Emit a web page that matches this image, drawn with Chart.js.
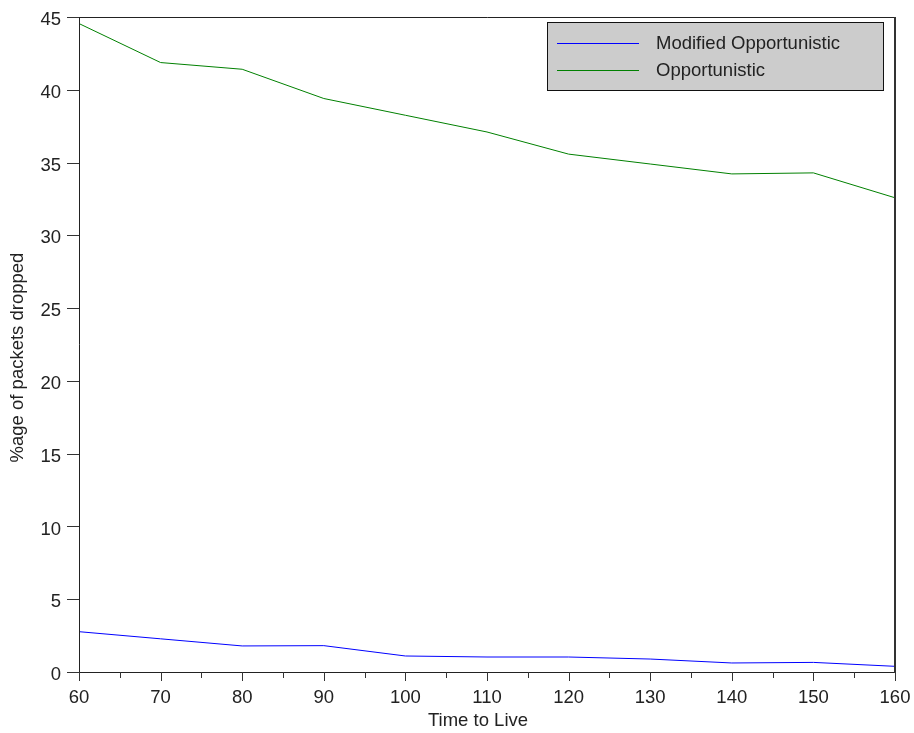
<!DOCTYPE html>
<html>
<head>
<meta charset="utf-8">
<script src="https://cdn.jsdelivr.net/npm/chart.js@4/dist/chart.umd.min.js"></script>
<style>
  html, body { margin: 0; padding: 0; background: #fff; }
  #wrap { width: 914px; height: 733px; position: relative; }
</style>
</head>
<body>
<div id="wrap"><canvas id="c" width="914" height="733"></canvas></div>
<script>
const ttl = [60, 70, 80, 90, 100, 110, 120, 130, 140, 150, 160];
const modifiedOpportunistic = [2.77, 2.28, 1.79, 1.81, 1.10, 1.03, 1.03, 0.89, 0.62, 0.66, 0.39];
const opportunistic = [44.55, 41.87, 41.41, 39.40, 38.25, 37.10, 35.58, 34.90, 34.22, 34.29, 32.58];
const seriesNames = ['Modified Opportunistic', 'Opportunistic'];
const seriesColors = ['#0000ff', '#008000'];
const yTicks = [0, 5, 10, 15, 20, 25, 30, 35, 40, 45];
const xMajorTicks = [60, 70, 80, 90, 100, 110, 120, 130, 140, 150, 160];
const xMinorTicks = [65, 75, 85, 95, 105, 115, 125, 135, 145, 155];
const xTitle = 'Time to Live';
const yTitle = '%age of packets dropped';

const FONT = 'Liberation Sans, Arial, sans-serif';
const FS = 18.5;

const boxPlugin = {
  id: 'boxPlugin',
  afterDraw(chart) {
    const ctx = chart.ctx;
    const a = chart.chartArea;
    const xs = chart.scales.x, ys = chart.scales.y;
    ctx.save();
    ctx.strokeStyle = '#222';
    ctx.lineWidth = 1;
    // frame
    ctx.beginPath();
    ctx.moveTo(a.left + 0.5, a.top + 0.5);
    ctx.lineTo(a.right, a.top + 0.5);
    ctx.moveTo(a.left + 0.5, a.top);
    ctx.lineTo(a.left + 0.5, a.bottom + 0.5);
    ctx.lineTo(a.right, a.bottom + 0.5);
    ctx.stroke();
    ctx.lineWidth = 2;
    ctx.strokeStyle = '#333';
    ctx.beginPath();
    ctx.moveTo(a.right, a.top);
    ctx.lineTo(a.right, a.bottom + 1);
    ctx.stroke();
    // ticks
    ctx.lineWidth = 1;
    ctx.strokeStyle = '#333';
    ctx.beginPath();
    yTicks.forEach(v => {
      const y = Math.round(ys.getPixelForValue(v)) + 0.5;
      ctx.moveTo(a.left - 12, y);
      ctx.lineTo(a.left, y);
    });
    xMajorTicks.forEach(v => {
      const x = Math.round(xs.getPixelForValue(v)) + 0.5;
      ctx.moveTo(x, a.bottom);
      ctx.lineTo(x, a.bottom + 9);
    });
    xMinorTicks.forEach(v => {
      const x = Math.round(xs.getPixelForValue(v)) + 0.5;
      ctx.moveTo(x, a.bottom);
      ctx.lineTo(x, a.bottom + 6);
    });
    ctx.stroke();
    // axis titles
    ctx.fillStyle = '#222';
    ctx.font = FS + 'px ' + FONT;
    ctx.textAlign = 'center';
    ctx.textBaseline = 'middle';
    ctx.fillText(xTitle, (a.left + a.right) / 2 - 9, 721);
    ctx.save();
    ctx.translate(18, (a.top + a.bottom) / 2 + 13);
    ctx.rotate(-Math.PI / 2);
    ctx.fillText(yTitle, 0, 0);
    ctx.restore();
    // legend
    const lx = a.right - 348, ly = a.top + 5, lw = 336, lh = 68;
    ctx.fillStyle = '#cccccc';
    ctx.fillRect(lx, ly, lw, lh);
    ctx.strokeStyle = '#111';
    ctx.lineWidth = 1;
    ctx.strokeRect(lx + 0.5, ly + 0.5, lw, lh);
    ctx.font = FS + 'px ' + FONT;
    ctx.textBaseline = 'middle';
    ctx.textAlign = 'left';
    chart.data.datasets.forEach((ds, i) => {
      const yy = ly + 21 + i * 27;
      ctx.strokeStyle = ds.borderColor;
      ctx.lineWidth = 1;
      ctx.beginPath();
      ctx.moveTo(lx + 10, yy + 0.5);
      ctx.lineTo(lx + 92, yy + 0.5);
      ctx.stroke();
      ctx.fillStyle = '#222';
      ctx.fillText(ds.label, lx + 109, yy + 1);
    });
    ctx.restore();
  }
};

new Chart(document.getElementById('c'), {
  type: 'line',
  data: {
    datasets: [
      {
        label: seriesNames[0],
        data: ttl.map((t, i) => ({ x: t, y: modifiedOpportunistic[i] })),
        borderColor: seriesColors[0],
        borderWidth: 1,
        pointRadius: 0,
        tension: 0,
        fill: false
      },
      {
        label: seriesNames[1],
        data: ttl.map((t, i) => ({ x: t, y: opportunistic[i] })),
        borderColor: seriesColors[1],
        borderWidth: 1,
        pointRadius: 0,
        tension: 0,
        fill: false
      }
    ]
  },
  options: {
    responsive: false,
    animation: false,
    layout: { padding: { top: 17, right: 19, left: 0, bottom: 0 } },
    plugins: { legend: { display: false }, tooltip: { enabled: false } },
    scales: {
      x: {
        type: 'linear',
        min: 60, max: 160,
        afterFit(s) { s.height = 61; s.paddingLeft = 0; s.paddingRight = 0; },
        grid: { display: false, drawTicks: true, tickLength: 9 },
        border: { display: false },
        ticks: { stepSize: 10, padding: 6, color: '#222', font: { family: FONT, size: FS }, maxRotation: 0, autoSkip: false },
        title: { display: false }
      },
      y: {
        min: 0, max: 45,
        afterFit(s) { s.width = 79; s.paddingTop = 0; s.paddingBottom = 0; },
        grid: { display: false, drawTicks: true, tickLength: 12 },
        border: { display: false },
        ticks: { stepSize: 5, padding: 6, labelOffset: 3, color: '#222', font: { family: FONT, size: FS } },
        title: { display: false }
      }
    }
  },
  plugins: [boxPlugin]
});
</script>
</body>
</html>
